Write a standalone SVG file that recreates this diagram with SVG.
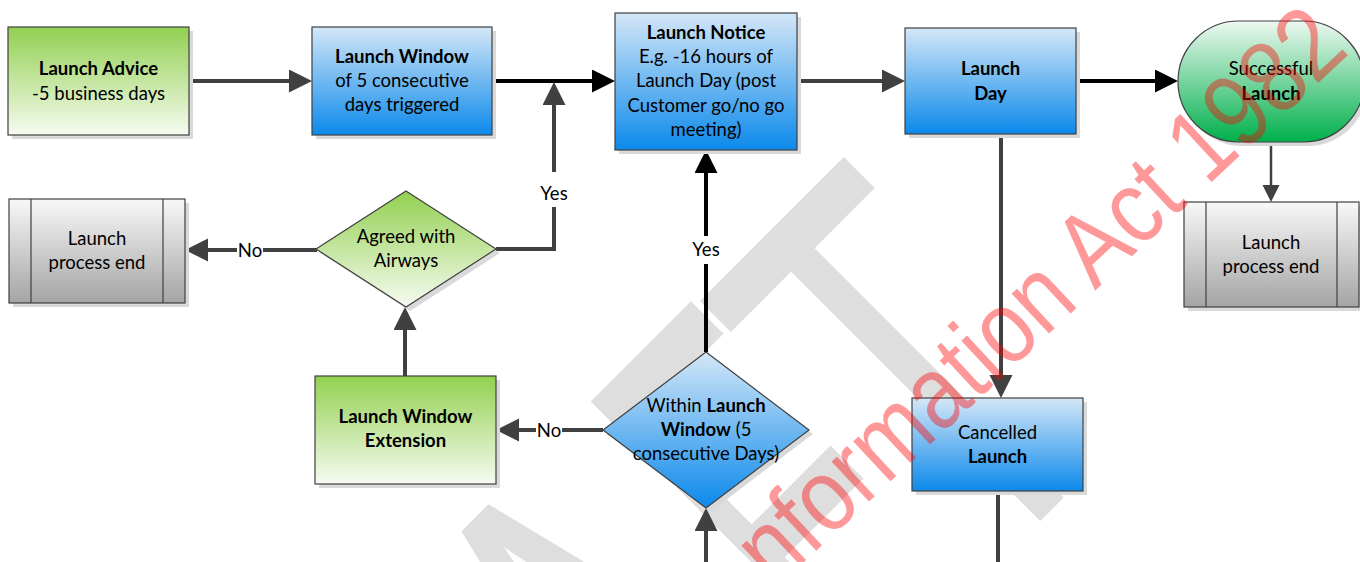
<svg xmlns="http://www.w3.org/2000/svg" width="1360" height="562" viewBox="0 0 1360 562">
<defs>
<linearGradient id="gGreen" x1="0" y1="0" x2="0" y2="1"><stop offset="0" stop-color="#92D050"/><stop offset="1" stop-color="#F6FBF1"/></linearGradient>
<linearGradient id="gBlue" x1="0" y1="0" x2="0" y2="1"><stop offset="0" stop-color="#D4E7F7"/><stop offset="1" stop-color="#0B89EB"/></linearGradient>
<linearGradient id="gGray" x1="0" y1="0" x2="0" y2="1"><stop offset="0" stop-color="#F8F8F8"/><stop offset="1" stop-color="#A4A4A4"/></linearGradient>
<linearGradient id="gOk" x1="0" y1="0" x2="0" y2="1"><stop offset="0" stop-color="#EDF8F0"/><stop offset="1" stop-color="#00B04C"/></linearGradient>
<marker id="aG" markerUnits="userSpaceOnUse" markerWidth="24" markerHeight="24" refX="15" refY="11.5" orient="auto"><path d="M0,0 L23,11.5 L0,23 Z" fill="#404040"/></marker>
<marker id="aK" markerUnits="userSpaceOnUse" markerWidth="24" markerHeight="24" refX="15" refY="11.5" orient="auto"><path d="M0,0 L23,11.5 L0,23 Z" fill="#000"/></marker>
<marker id="aS" markerUnits="userSpaceOnUse" markerWidth="18" markerHeight="18" refX="11" refY="8.5" orient="auto"><path d="M0,0 L17,8.5 L0,17 Z" fill="#404040"/></marker>
</defs>
<style>
.box{stroke:#404040;stroke-width:1.2}
.sh{fill:#D9D9D9}
.t{font-family:Lato,"Liberation Sans",sans-serif;font-size:18.5px;fill:#000;text-anchor:middle}
.b{font-weight:bold}
.c{fill:none;stroke:#404040;stroke-width:4}
.k{stroke:#000}
.lbl{font-family:Lato,"Liberation Sans",sans-serif;font-size:18.5px;fill:#000;text-anchor:middle}
.wm{font-family:"Liberation Sans",sans-serif;fill:#DEDEDE}
.red{font-family:"Liberation Sans",sans-serif;font-size:90px;fill:#FF0000;fill-opacity:0.4}
</style>
<rect width="1360" height="562" fill="#fff"/>
<g id="watermark-draft" class="wm">
<text x="-151" y="681" font-size="360" transform="rotate(-45) scale(1,1.62)">A</text>
<text x="110" y="536" font-size="290" transform="rotate(-45) scale(1,2.085)">F</text>
<text x="274" y="690" font-size="360" transform="rotate(-45) scale(1,1.6)">T</text>
</g>
<g id="connectors">
<path class="c" d="M189,81 H304" marker-end="url(#aG)"/>
<path class="c k" d="M492,81 H607" marker-end="url(#aK)"/>
<path class="c" d="M496,249 H554 V207 M554,172 V90" marker-end="url(#aG)"/>
<path class="c" d="M317,250 H263 M237,250 H193" marker-end="url(#aG)"/>
<path class="c" d="M405,376 V315" marker-end="url(#aG)"/>
<path class="c" d="M603,430 H562 M536,430 H504" marker-end="url(#aG)"/>
<path class="c k" d="M706,352 V264 M706,236 V158" marker-end="url(#aK)"/>
<path class="c" d="M706,562 V516" marker-end="url(#aG)"/>
<path class="c" d="M797,81 H897" marker-end="url(#aG)"/>
<path class="c k" d="M1076,81 H1170" marker-end="url(#aK)"/>
<path class="c" style="stroke-width:2.5" d="M1271,142 V196" marker-end="url(#aS)"/>
<path class="c" d="M1001,134 V390" marker-end="url(#aG)"/>
<path class="c" d="M998,491 V562"/>
<text class="lbl" x="554" y="200">Yes</text>
<text class="lbl" x="250" y="256.5">No</text>
<text class="lbl" x="706" y="256">Yes</text>
<text class="lbl" x="549" y="436.5">No</text>
</g>
<g id="launch-advice">
<rect class="sh" x="12" y="31" width="181" height="108"/>
<rect class="box" x="8" y="27" width="181" height="108" fill="url(#gGreen)"/>
<text class="t b" x="98.5" y="75">Launch Advice</text>
<text class="t" x="98.5" y="100">-5 business days</text>
</g>
<g id="launch-window">
<rect class="sh" x="316" y="31" width="180" height="108"/>
<rect class="box" x="312" y="27" width="180" height="108" fill="url(#gBlue)"/>
<text class="t b" x="402" y="63">Launch Window</text>
<text class="t" x="402" y="87">of 5 consecutive</text>
<text class="t" x="402" y="111">days triggered</text>
</g>
<g id="launch-notice">
<rect class="sh" x="619" y="17" width="182" height="137"/>
<rect class="box" x="615" y="13" width="182" height="137" fill="url(#gBlue)"/>
<text class="t b" x="706" y="39">Launch Notice</text>
<text class="t" x="706" y="63.2">E.g. -16 hours of</text>
<text class="t" x="706" y="87.4">Launch Day (post</text>
<text class="t" x="706" y="111.6">Customer go/no go</text>
<text class="t" x="706" y="135.8">meeting)</text>
</g>
<g id="launch-day">
<rect class="sh" x="909" y="32" width="171" height="106"/>
<rect class="box" x="905" y="28" width="171" height="106" fill="url(#gBlue)"/>
<text class="t b" x="990.5" y="75">Launch</text>
<text class="t b" x="990.5" y="99.5">Day</text>
</g>
<g id="successful-launch">
<rect class="sh" x="1182" y="25" width="186" height="121" rx="60.5"/>
<rect class="box" x="1178" y="21" width="186" height="121" rx="60.5" fill="url(#gOk)"/>
<text class="t" x="1271" y="75">Successful</text>
<text class="t b" x="1271" y="100">Launch</text>
</g>
<g id="process-end-right">
<rect class="sh" x="1188" y="206" width="175" height="105"/>
<rect class="box" x="1184" y="202" width="175" height="105" fill="url(#gGray)"/>
<path class="box" d="M1206,202 V307 M1337,202 V307"/>
<text class="t" x="1271" y="249">Launch</text>
<text class="t" x="1271" y="273">process end</text>
</g>
<g id="process-end-left">
<rect class="sh" x="13" y="203" width="176" height="104"/>
<rect class="box" x="9" y="199" width="176" height="104" fill="url(#gGray)"/>
<path class="box" d="M31,199 V303 M163,199 V303"/>
<text class="t" x="97" y="245">Launch</text>
<text class="t" x="97" y="269">process end</text>
</g>
<g id="agreed-with-airways">
<polygon class="sh" points="410,195 500,253 410,311 320,253"/>
<polygon class="box" points="406,191 496,249 406,307 316,249" fill="url(#gGreen)"/>
<text class="t" x="406" y="243">Agreed with</text>
<text class="t" x="406" y="267">Airways</text>
</g>
<g id="launch-window-extension">
<rect class="sh" x="319" y="380" width="181" height="108"/>
<rect class="box" x="315" y="376" width="181" height="108" fill="url(#gGreen)"/>
<text class="t b" x="405.5" y="423">Launch Window</text>
<text class="t b" x="405.5" y="447">Extension</text>
</g>
<g id="within-launch-window">
<polygon class="sh" points="710,356 813,434 710,512 607,434"/>
<polygon class="box" points="706,352 809,430 706,508 603,430" fill="url(#gBlue)"/>
<text class="t" x="706" y="411.5">Within <tspan class="b">Launch</tspan></text>
<text class="t" x="706" y="436"><tspan class="b">Window</tspan> (5</text>
<text class="t" x="706" y="460">consecutive Days)</text>
</g>
<g id="cancelled-launch">
<rect class="sh" x="916" y="402" width="171" height="93"/>
<rect class="box" x="912" y="398" width="171" height="93" fill="url(#gBlue)"/>
<text class="t" x="997.5" y="439">Cancelled</text>
<text class="t b" x="997.5" y="463">Launch</text>
</g>
<g id="watermark-red">
<text class="red" x="0" y="0" text-anchor="end" transform="translate(1351,52) rotate(-43) scale(0.985,1.15)">nformation Act 1982</text>
</g>
</svg>
